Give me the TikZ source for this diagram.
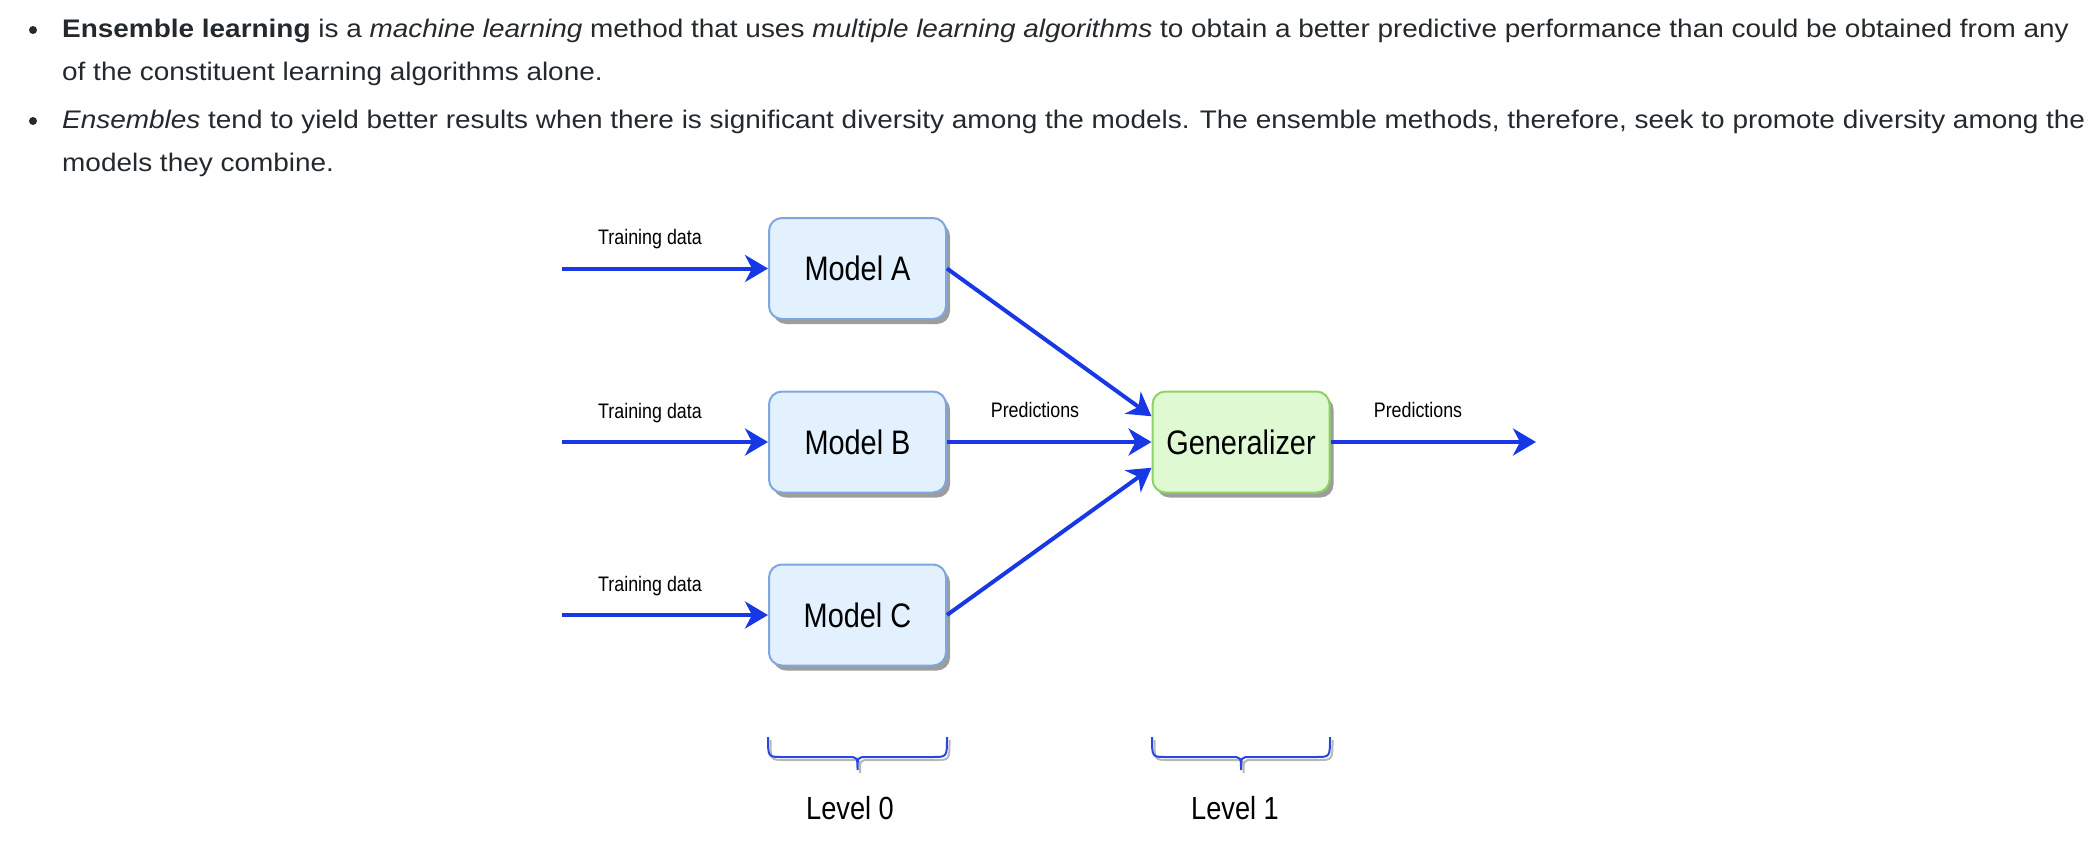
\documentclass[tikz,border=0pt]{standalone}
\usepackage{fontspec}
\setmainfont{Liberation Sans}
\newfontfamily\bodyfont[FakeStretch=1.1]{Liberation Sans}
\newfontfamily\diag[FakeStretch=0.85]{Liberation Sans}
\usetikzlibrary{arrows.meta,shadows,calc}
\definecolor{txt}{HTML}{24292E}
\definecolor{linkblue}{RGB}{24,56,230}
\definecolor{boxblue}{HTML}{7EA6E0}
\definecolor{fillblue}{HTML}{E3F0FD}
\definecolor{boxgreen}{HTML}{8DD35F}
\definecolor{fillgreen}{HTML}{DFF9D3}
\definecolor{bracecol}{RGB}{40,70,225}
\tikzset{
  bodyline/.style={anchor=base west, inner sep=0, text=txt, font=\bodyfont\fontsize{25.4}{30}\selectfont},
  bulletdot/.style={circle, fill=txt, inner sep=0, minimum size=8pt},
  boxshadow/.style={drop shadow={shadow xshift=4pt, shadow yshift=-5pt, fill=black!45, opacity=0.85}},
  model/.style={draw=boxblue, fill=fillblue, line width=2pt, rounded corners=13pt,
    minimum width=177pt, minimum height=101pt, inner sep=0, boxshadow,
    font=\diag\fontsize{34}{40}\selectfont},
  genbox/.style={model, draw=boxgreen, fill=fillgreen},
  smalllabel/.style={inner sep=0, font=\diag\fontsize{21}{25}\selectfont},
  levellabel/.style={inner sep=0, font=\diag\fontsize{32}{38}\selectfont},
  conn/.style={draw=linkblue, line width=4pt, -{Stealth[length=23pt, width=27pt, inset=7pt]}},
  bracestyle/.style={draw=bracecol, line width=2pt},
  braceshadow/.style={draw=black!40, line width=2pt, opacity=0.7}
}
\begin{document}
\begin{tikzpicture}[x=1pt, y=-1pt]
\useasboundingbox (0,0) rectangle (2098,846);

% body text
\node[bulletdot] (b1) at (33,30) {};
\node[bodyline] (l1) at (62,37) {\textbf{Ensemble learning} is a \textit{machine learning} method that uses \textit{multiple learning algorithms} to obtain a better predictive performance than could be obtained from any};
\node[bodyline] (l2) at (62,80) {of the constituent learning algorithms alone.};
\node[bulletdot] (b2) at (33,121) {};
\node[bodyline] (l3) at (62,128) {\textit{Ensembles} tend to yield better results when there is significant diversity among the models. The ensemble methods, therefore, seek to promote diversity among the};
\node[bodyline] (l4) at (62,171) {models they combine.};

% boxes
\node[model] (A) at (857.5,268.5) {Model A};
\node[model] (B) at (857.5,442) {Model B};
\node[model] (C) at (857.5,615) {Model C};
\node[genbox] (G) at (1241,442) {Generalizer};

% free ends
\coordinate (tA) at (562,268.5);
\coordinate (tB) at (562,442);
\coordinate (tC) at (562,615);
\coordinate (out) at (1536,442);

% connectors
\draw[conn] (tA) -- (A);
\draw[conn] (tB) -- (B);
\draw[conn] (tC) -- (C);
\draw[conn] (A.east) -- ($(G.north west)!0.25!(G.south west)$);
\draw[conn] (B.east) -- (G.west);
\draw[conn] (C.east) -- ($(G.north west)!0.75!(G.south west)$);
\draw[conn] (G.east) -- (out);

% labels
\node[smalllabel] (ltA) at (650,239) {Training data};
\node[smalllabel] (ltB) at (650,413) {Training data};
\node[smalllabel] (ltC) at (650,586) {Training data};
\node[smalllabel] (lp1) at (1035,410) {Predictions};
\node[smalllabel] (lp2) at (1418,410) {Predictions};

% braces
\foreach \xa/\xb in {768/947, 1152/1330}{
  \pgfmathsetmacro{\xm}{(\xa+\xb)/2}
  \draw[braceshadow, shift={(2.5,3)}] (\xa,737) .. controls (\xa,757) .. (\xa+14,757) -- (\xm-10,757) .. controls (\xm,757) .. (\xm,770) .. controls (\xm,757) .. (\xm+10,757) -- (\xb-14,757) .. controls (\xb,757) .. (\xb,737);
  \draw[bracestyle] (\xa,737) .. controls (\xa,757) .. (\xa+14,757) -- (\xm-10,757) .. controls (\xm,757) .. (\xm,770) .. controls (\xm,757) .. (\xm+10,757) -- (\xb-14,757) .. controls (\xb,757) .. (\xb,737);
}

\node[levellabel] (lv0) at (850,808) {Level 0};
\node[levellabel] (lv1) at (1235,808) {Level 1};
\end{tikzpicture}
\end{document}
